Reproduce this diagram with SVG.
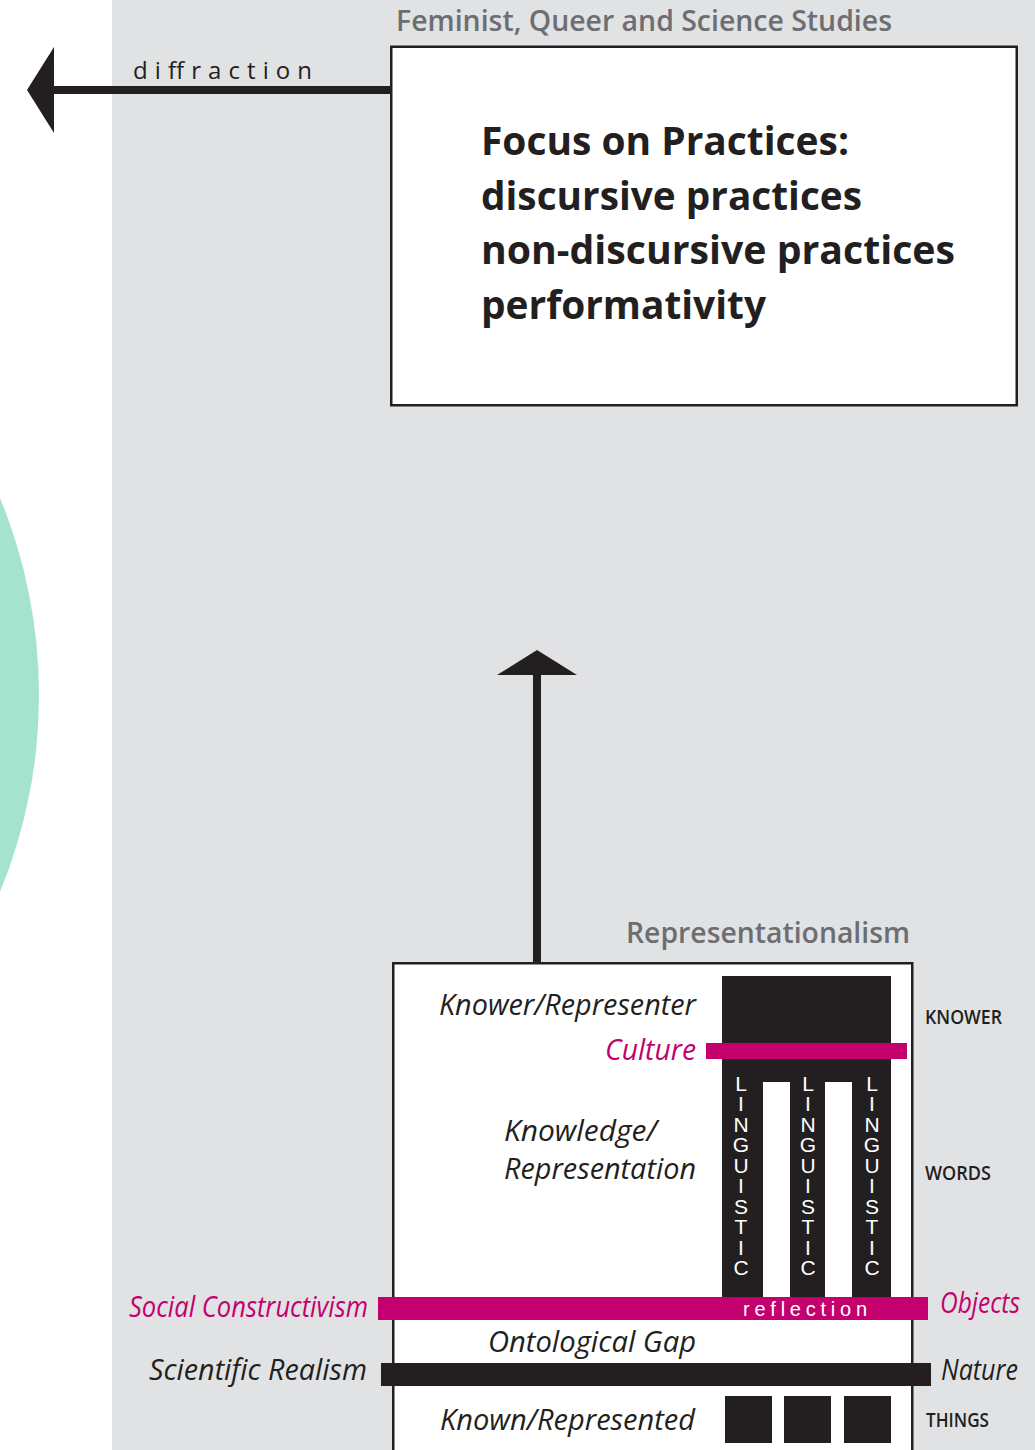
<svg xmlns="http://www.w3.org/2000/svg" width="1035" height="1450" viewBox="0 0 1035 1450">
  <style>
    .it { font-family: "Open Sans", "Liberation Sans", sans-serif; font-style: italic; font-size: 30px; }
    .dark { fill: #231f20; }
    .mag { fill: #c4006f; }
    .head { font-family: "Open Sans", "Liberation Sans", sans-serif; font-weight: 600; font-size: 28px; fill: #6d6e71; }
    .focus { font-family: "Open Sans", "Liberation Sans", sans-serif; font-weight: 700; font-size: 40px; fill: #231f20; }
    .cap { font-family: "Open Sans", "Liberation Sans", sans-serif; font-weight: 600; font-size: 19px; fill: #231f20; }
    .ling { font-family: "Liberation Sans", Arial, sans-serif; font-size: 21px; fill: #ffffff; text-anchor: middle; }
    .spaced { font-family: "Liberation Sans", Arial, sans-serif; font-size: 20px; }
  </style>

  <!-- backgrounds -->
  <rect x="0" y="0" width="1035" height="1450" fill="#ffffff"/>
  <g id="circle">
    <circle cx="-478" cy="695" r="517" fill="#a6e3cf"/>
  </g>
  <rect x="112" y="0" width="923" height="1450" fill="#e1e2e4"/>

  <!-- connectors -->
  <g id="connectors" fill="#231f20">
    <rect x="52" y="86" width="340" height="8"/>
    <polygon points="27,90 54,47 54,133"/>
    <text x="133" y="79" font-family="Open Sans, Liberation Sans, sans-serif" font-size="24" fill="#231f20" textLength="179" lengthAdjust="spacing">diffraction</text>
    <rect x="533" y="672" width="8" height="292"/>
    <polygon points="537,650 497,675 577,675"/>
  </g>

  <!-- Feminist, Queer and Science Studies node -->
  <g id="node-practices">
    <text class="head" x="396" y="31" textLength="496" lengthAdjust="spacingAndGlyphs">Feminist, Queer and Science Studies</text>
    <rect x="391.25" y="46.75" width="625.5" height="358.5" fill="#ffffff" stroke="#231f20" stroke-width="2.5"/>
    <text class="focus" x="481" y="155" textLength="368" lengthAdjust="spacingAndGlyphs">Focus on Practices:</text>
    <text class="focus" x="481" y="209.5" textLength="381" lengthAdjust="spacingAndGlyphs">discursive practices</text>
    <text class="focus" x="481" y="264" textLength="474" lengthAdjust="spacingAndGlyphs">non-discursive practices</text>
    <text class="focus" x="481" y="318.5" textLength="285" lengthAdjust="spacingAndGlyphs">performativity</text>
  </g>

  <!-- Representationalism node -->
  <g id="node-representationalism">
    <text class="head" x="626" y="943" textLength="284" lengthAdjust="spacingAndGlyphs">Representationalism</text>
    <rect x="393.25" y="963.25" width="519" height="520" fill="#ffffff" stroke="#231f20" stroke-width="2.5"/>

    <!-- knower block and linguistic columns -->
    <rect x="722" y="976" width="169" height="322" fill="#231f20"/>
    <rect x="763" y="1082" width="27" height="216" fill="#ffffff"/>
    <rect x="825" y="1082" width="27" height="216" fill="#ffffff"/>
    <rect x="706" y="1043" width="201" height="16" fill="#c4006f"/>

    <text class="ling"><tspan x="741" y="1091">L</tspan><tspan x="741" dy="20.44">I</tspan><tspan x="741" dy="20.44">N</tspan><tspan x="741" dy="20.44">G</tspan><tspan x="741" dy="20.44">U</tspan><tspan x="741" dy="20.44">I</tspan><tspan x="741" dy="20.44">S</tspan><tspan x="741" dy="20.44">T</tspan><tspan x="741" dy="20.44">I</tspan><tspan x="741" dy="20.44">C</tspan></text>
    <text class="ling"><tspan x="808" y="1091">L</tspan><tspan x="808" dy="20.44">I</tspan><tspan x="808" dy="20.44">N</tspan><tspan x="808" dy="20.44">G</tspan><tspan x="808" dy="20.44">U</tspan><tspan x="808" dy="20.44">I</tspan><tspan x="808" dy="20.44">S</tspan><tspan x="808" dy="20.44">T</tspan><tspan x="808" dy="20.44">I</tspan><tspan x="808" dy="20.44">C</tspan></text>
    <text class="ling"><tspan x="872" y="1091">L</tspan><tspan x="872" dy="20.44">I</tspan><tspan x="872" dy="20.44">N</tspan><tspan x="872" dy="20.44">G</tspan><tspan x="872" dy="20.44">U</tspan><tspan x="872" dy="20.44">I</tspan><tspan x="872" dy="20.44">S</tspan><tspan x="872" dy="20.44">T</tspan><tspan x="872" dy="20.44">I</tspan><tspan x="872" dy="20.44">C</tspan></text>

    <!-- reflection bar -->
    <rect x="378" y="1297" width="550" height="23" fill="#c4006f"/>
    <text class="spaced" x="743" y="1316" fill="#ffffff" textLength="124" lengthAdjust="spacing">reflection</text>

    <!-- realism bar -->
    <rect x="381" y="1363" width="550" height="23" fill="#231f20"/>

    <!-- things -->
    <rect x="725" y="1396" width="47" height="47" fill="#231f20"/>
    <rect x="784" y="1396" width="47" height="47" fill="#231f20"/>
    <rect x="844" y="1396" width="47" height="47" fill="#231f20"/>

    <!-- labels inside -->
    <text class="it dark" x="439" y="1015" textLength="257" lengthAdjust="spacingAndGlyphs">Knower/Representer</text>
    <text class="it mag" x="605" y="1060" textLength="91" lengthAdjust="spacingAndGlyphs">Culture</text>
    <text class="it dark" x="504" y="1141" textLength="153" lengthAdjust="spacingAndGlyphs">Knowledge/</text>
    <text class="it dark" x="504" y="1179" textLength="192" lengthAdjust="spacingAndGlyphs">Representation</text>
    <text class="it dark" x="488" y="1352" textLength="208" lengthAdjust="spacingAndGlyphs">Ontological Gap</text>
    <text class="it dark" x="440" y="1430" textLength="255" lengthAdjust="spacingAndGlyphs">Known/Represented</text>

    <!-- labels outside -->
    <text class="it mag" x="129" y="1317" textLength="239" lengthAdjust="spacingAndGlyphs">Social Constructivism</text>
    <text class="it dark" x="149" y="1380" textLength="218" lengthAdjust="spacingAndGlyphs">Scientific Realism</text>
    <text class="it mag" x="940" y="1313" textLength="80" lengthAdjust="spacingAndGlyphs">Objects</text>
    <text class="it dark" x="941" y="1380" textLength="77" lengthAdjust="spacingAndGlyphs">Nature</text>

    <text class="cap" x="925" y="1024" textLength="77" lengthAdjust="spacingAndGlyphs">KNOWER</text>
    <text class="cap" x="925" y="1180" textLength="66" lengthAdjust="spacingAndGlyphs">WORDS</text>
    <text class="cap" x="926" y="1427" textLength="63" lengthAdjust="spacingAndGlyphs">THINGS</text>
  </g>
</svg>
